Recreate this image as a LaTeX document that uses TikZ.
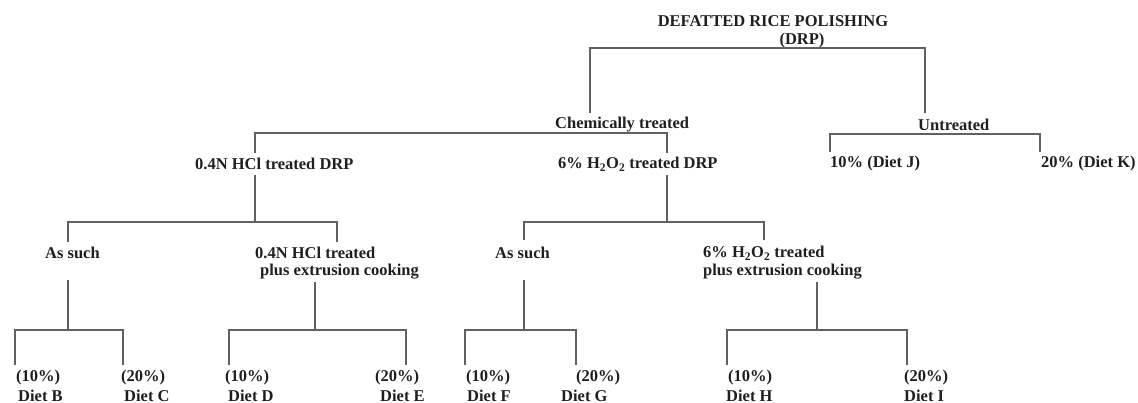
\documentclass[tikz,border=0pt]{standalone}
\usepackage{fontspec}
\setmainfont{Liberation Serif}
\begin{document}
\begin{tikzpicture}[x=1pt,y=-1pt,
  lbl/.style={font=\fontsize{16.5}{18}\selectfont\bfseries, inner sep=0pt, anchor=west, text=black!88},
  conn/.style={draw=black!62, line width=1.3pt}]
\useasboundingbox (0,0) rectangle (1138,403);
% text nodes
\node[lbl,anchor=center] (title) at (773,21) {DEFATTED RICE POLISHING};
\node[lbl,anchor=center] (drp) at (802,41) {(DRP)};
\node[lbl] (chem) at (555,125) {Chemically treated};
\node[lbl] (untr) at (918,125) {Untreated};
\node[lbl] (hcl) at (195,164) {0.4N HCl treated DRP};
\node[lbl] (hoo) at (558,164) {6\% H\textsubscript{2}O\textsubscript{2} treated DRP};
\node[lbl] (dj) at (830,164) {10\% (Diet J)};
\node[lbl] (dk) at (1041,164) {20\% (Diet K)};
\node[lbl] (as1) at (45,253) {As such};
\node[lbl] (ex1a) at (255,253) {0.4N HCl treated};
\node[lbl] (ex1b) at (260,272) {plus extrusion cooking};
\node[lbl] (as2) at (495,253) {As such};
\node[lbl] (ex2a) at (703,253) {6\% H\textsubscript{2}O\textsubscript{2} treated};
\node[lbl] (ex2b) at (703,272) {plus extrusion cooking};
\node[lbl] (pb) at (16,378) {(10\%)};  \node[lbl] (db) at (18,396) {Diet B};
\node[lbl] (pc) at (121,378) {(20\%)}; \node[lbl] (dc) at (124,396) {Diet C};
\node[lbl] (pd) at (225,378) {(10\%)}; \node[lbl] (dd) at (228,396) {Diet D};
\node[lbl] (pe) at (375,378) {(20\%)}; \node[lbl] (de) at (380,396) {Diet E};
\node[lbl] (pf) at (466,378) {(10\%)}; \node[lbl] (df) at (467,396) {Diet F};
\node[lbl] (pg) at (576,378) {(20\%)}; \node[lbl] (dg) at (561,396) {Diet G};
\node[lbl] (ph) at (728,378) {(10\%)}; \node[lbl] (dh) at (726,396) {Diet H};
\node[lbl] (pi) at (904,378) {(20\%)}; \node[lbl] (di) at (904,396) {Diet I};
% junction coordinates
\coordinate (t1) at (590,48);  \coordinate (t2) at (925,48);
\coordinate (t1b) at (590,113); \coordinate (t2b) at (925,113);
\coordinate (c1) at (255,133); \coordinate (c2) at (667,133);
\coordinate (c1b) at (255,153); \coordinate (c2b) at (667,153);
\coordinate (u1) at (830,134); \coordinate (u2) at (1040,134);
\coordinate (u1b) at (830,152); \coordinate (u2b) at (1040,152);
% HCl branch
\coordinate (h0) at (255,175); \coordinate (hm) at (255,222);
\coordinate (h1) at (68,222); \coordinate (h2) at (337,222);
\coordinate (h1b) at (68,242); \coordinate (h2b) at (337,242);
% H2O2 branch
\coordinate (o0) at (667,175); \coordinate (om) at (667,222);
\coordinate (o1) at (524,222); \coordinate (o2) at (764,222);
\coordinate (o1b) at (524,240); \coordinate (o2b) at (764,240);
% leaf groups
\coordinate (a0) at (68,280);  \coordinate (am) at (68,330);
\coordinate (a1) at (15,330);  \coordinate (a2) at (123,330);
\coordinate (a1b) at (15,365); \coordinate (a2b) at (123,365);
\coordinate (e0) at (315,282); \coordinate (em) at (315,330);
\coordinate (e1) at (229,330); \coordinate (e2) at (406,330);
\coordinate (e1b) at (229,365); \coordinate (e2b) at (406,365);
\coordinate (s0) at (524,280); \coordinate (sm) at (524,330);
\coordinate (s1) at (465,330); \coordinate (s2) at (576,330);
\coordinate (s1b) at (465,365); \coordinate (s2b) at (576,365);
\coordinate (x0) at (817,282); \coordinate (xm) at (817,330);
\coordinate (x1) at (727,330); \coordinate (x2) at (907,330);
\coordinate (x1b) at (727,365); \coordinate (x2b) at (907,365);
% connectors
\draw[conn] (t1b) -- (t1) -- (t2) -- (t2b);
\draw[conn] (c1b) -- (c1) -- (c2) -- (c2b);
\draw[conn] (u1b) -- (u1) -- (u2) -- (u2b);
\draw[conn] (h0) -- (hm);
\draw[conn] (h1b) -- (h1) -- (h2) -- (h2b);
\draw[conn] (o0) -- (om);
\draw[conn] (o1b) -- (o1) -- (o2) -- (o2b);
\draw[conn] (a0) -- (am);
\draw[conn] (a1b) -- (a1) -- (a2) -- (a2b);
\draw[conn] (e0) -- (em);
\draw[conn] (e1b) -- (e1) -- (e2) -- (e2b);
\draw[conn] (s0) -- (sm);
\draw[conn] (s1b) -- (s1) -- (s2) -- (s2b);
\draw[conn] (x0) -- (xm);
\draw[conn] (x1b) -- (x1) -- (x2) -- (x2b);
\end{tikzpicture}
\end{document}
